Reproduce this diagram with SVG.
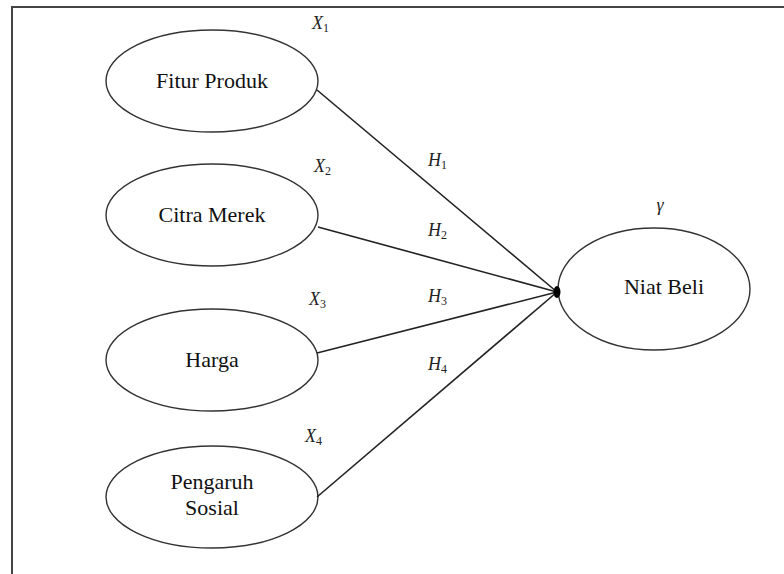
<svg xmlns="http://www.w3.org/2000/svg" width="784" height="574" viewBox="0 0 784 574">
<style>
.node{fill:#fff;stroke:#333;stroke-width:1.4}
.lbl{font-family:"Liberation Serif","Times New Roman",serif;font-size:22px;fill:#111;text-anchor:middle}
.math{font-family:"Liberation Serif","DejaVu Serif",serif;font-size:18px;font-style:italic;fill:#222}
.sub{font-size:12px;font-style:normal}
.conn{stroke:#222;stroke-width:1.6;fill:none}
</style>
<rect x="0" y="0" width="784" height="574" fill="#fff"/>
<rect x="12" y="7" width="800" height="600" fill="none" stroke="#444" stroke-width="2"/>
<g id="fitur">
<ellipse class="node" cx="212" cy="81" rx="106" ry="51"/>
<text class="lbl" x="212" y="88">Fitur Produk</text>
</g>
<g id="citra">
<ellipse class="node" cx="212" cy="215" rx="106" ry="51"/>
<text class="lbl" x="212" y="222">Citra Merek</text>
</g>
<g id="harga">
<ellipse class="node" cx="212" cy="360" rx="106" ry="51"/>
<text class="lbl" x="212" y="367">Harga</text>
</g>
<g id="sosial">
<ellipse class="node" cx="212" cy="497" rx="106" ry="51"/>
<text class="lbl" x="212" y="489">Pengaruh</text>
<text class="lbl" x="212" y="515">Sosial</text>
</g>
<g id="niat">
<ellipse class="node" cx="654" cy="289" rx="96" ry="61"/>
<text class="lbl" x="664" y="294">Niat Beli</text>
</g>
<g id="connectors">
<line class="conn" x1="317" y1="90" x2="557" y2="292"/>
<line class="conn" x1="318" y1="227" x2="557" y2="292"/>
<line class="conn" x1="317" y1="353" x2="557" y2="292"/>
<line class="conn" x1="317" y1="497" x2="557" y2="292"/>
<ellipse cx="557" cy="292" rx="3.5" ry="6" fill="#000"/>
</g>
<g id="labels">
<text class="math" x="312" y="29">X<tspan class="sub" dy="3">1</tspan></text>
<text class="math" x="314" y="172">X<tspan class="sub" dy="3">2</tspan></text>
<text class="math" x="309" y="305">X<tspan class="sub" dy="3">3</tspan></text>
<text class="math" x="305" y="442">X<tspan class="sub" dy="3">4</tspan></text>
<text class="math" x="428" y="166">H<tspan class="sub" dy="3">1</tspan></text>
<text class="math" x="428" y="236">H<tspan class="sub" dy="3">2</tspan></text>
<text class="math" x="428" y="302">H<tspan class="sub" dy="3">3</tspan></text>
<text class="math" x="428" y="370">H<tspan class="sub" dy="3">4</tspan></text>
<text class="math" x="660" y="211" text-anchor="middle">γ</text>
</g>
</svg>
